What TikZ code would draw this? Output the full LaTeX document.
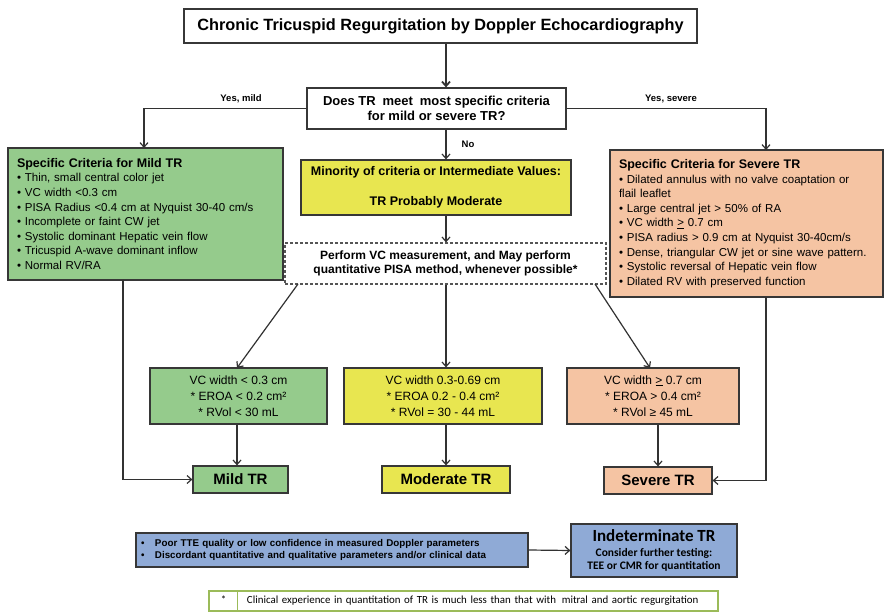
\documentclass[tikz,border=0pt]{standalone}
\usepackage{fontspec}
\setmainfont{Liberation Sans}
\newfontfamily\carlito{Carlito}
\usetikzlibrary{arrows.meta,calc}

\definecolor{boxline}{RGB}{55,55,55}
\definecolor{wire}{RGB}{50,50,50}
\definecolor{mildgreen}{RGB}{149,203,140}
\definecolor{modyellow}{RGB}{232,230,80}
\definecolor{sevpeach}{RGB}{245,196,163}
\definecolor{indblue}{RGB}{143,170,214}
\definecolor{notegreen}{RGB}{155,187,89}

\newcommand\fsz[2]{\fontsize{#1}{#2}\selectfont}

\begin{document}
\begin{tikzpicture}[x=1pt,y=-1pt,
  panel/.style={draw=boxline, line width=1.2pt, inner ysep=0pt},
  sized/.style 2 args={minimum width=#1, minimum height=#2},
  arr/.style={draw=wire, line width=1.2pt, -{Straight Barb[length=4.5pt,width=8pt]}},
  lbl/.style={font=\bfseries\fsz{9.5}{11}, inner sep=1pt}]

\useasboundingbox[fill=white] (0,0) rectangle (886,612);

% column axis shared by the middle arrows
\coordinate (axis) at (446,0);

% heading and first question
\node[panel, sized={513pt}{34pt}, font=\bfseries\fsz{16.3}{18}] (title) at (440.5,26)
  {Chronic Tricuspid Regurgitation by Doppler Echocardiography};
\node[panel, sized={259pt}{41pt}, align=center, font=\bfseries\fsz{13}{15}] (q) at (436.5,108.5)
  {Does TR\hspace{0.25em} meet\hspace{0.25em} most specific criteria\\ for mild or severe TR?};

% specific criteria panels
\node[panel, fill=mildgreen, sized={275pt}{132pt}, inner xsep=9pt, text width=257pt,
      align=left, font=\fsz{11.5}{14.6}] (mild) at (145.5,214)
  {{\bfseries\fsz{12.5}{14.6}Specific Criteria for Mild TR}\\
   • Thin, small central color jet\\
   • VC width <0.3 cm\\
   • PISA Radius <0.4 cm at Nyquist 30-40 cm/s\\
   • Incomplete or faint CW jet\\
   • Systolic dominant Hepatic vein flow\\
   • Tricuspid A-wave dominant inflow\\
   • Normal RV/RA};

\node[panel, fill=sevpeach, sized={273pt}{147pt}, inner xsep=9pt, text width=255pt,
      align=left, font=\fsz{11.5}{14.6}] (sev) at (746.5,223.5)
  {{\bfseries\fsz{12.5}{14.6}Specific Criteria for Severe TR}\\
   • Dilated annulus with no valve coaptation or\\
   flail leaflet\\
   • Large central jet > 50\% of RA\\
   • VC width \underline{>} 0.7 cm\\
   • PISA radius > 0.9 cm at Nyquist 30-40cm/s\\
   • Dense, triangular CW jet or sine wave pattern.\\
   • Systolic reversal of Hepatic vein flow\\
   • Dilated RV with preserved function};

\node[panel, fill=modyellow, sized={270pt}{55pt}, align=center, font=\bfseries\fsz{12.5}{15}] (inter) at (436,187.5)
  {Minority of criteria or Intermediate Values:\\[15pt] TR Probably Moderate};

\node[draw=boxline!85, dash pattern=on 3pt off 2pt, line width=1.2pt, inner ysep=0pt,
      sized={321pt}{41pt}, align=center, font=\bfseries\fsz{12}{14}] (perf) at (445.5,263.5)
  {Perform VC measurement, and May perform\\ quantitative PISA method, whenever possible*};

% quantitative parameter boxes
\node[panel, fill=mildgreen, sized={177pt}{56pt}, align=center, font=\fsz{12}{16}] (qmild) at (238.5,396)
  {VC width < 0.3 cm\\ * EROA < 0.2 cm²\\ * RVol < 30 mL};
\node[panel, fill=modyellow, sized={198pt}{56pt}, align=center, font=\fsz{12}{16}] (qmod) at (443,396)
  {VC width 0.3-0.69 cm\\ * EROA 0.2 - 0.4 cm²\\ * RVol = 30 - 44 mL};
\node[panel, fill=sevpeach, sized={172pt}{56pt}, align=center, font=\fsz{12}{16}] (qsev) at (653,396)
  {VC width \underline{>} 0.7 cm\\ * EROA > 0.4 cm²\\ * RVol ≥ 45 mL};

% grades
\node[panel, fill=mildgreen, sized={95pt}{27pt}, font=\bfseries\fsz{15}{17}] (gmild) at (240.5,479.5) {Mild TR};
\node[panel, fill=modyellow, sized={128pt}{27pt}, font=\bfseries\fsz{15}{17}] (gmod) at (446,479.5) {Moderate TR};
\node[panel, fill=sevpeach, sized={108pt}{27pt}, font=\bfseries\fsz{15}{17}] (gsev) at (658,480.5) {Severe TR};

% indeterminate branch
\node[panel, fill=indblue, sized={392pt}{34pt}, inner xsep=5pt, text width=382pt,
      align=left, font=\bfseries\fsz{9.8}{11.5}] (poor) at (332,550)
  {\makebox[14pt][l]{•}Poor TTE quality or low confidence in measured Doppler parameters\\
   \makebox[14pt][l]{•}Discordant quantitative and qualitative parameters and/or clinical data};
\node[panel, fill=indblue, sized={166pt}{53pt}, align=center, font=\carlito\bfseries\fsz{11.5}{13.5}] (indet) at (654,550.5)
  {{\fsz{17}{17}Indeterminate TR}\\[1pt] Consider further testing:\\ TEE or CMR for quantitation};

% footnote
\node[draw=notegreen, line width=1.5pt, sized={509pt}{20pt}, inner xsep=0pt, inner ysep=0pt,
      text width=509pt, align=left, font=\carlito\fsz{10.9}{12}] (note) at (463.5,601)
  {\makebox[29pt]{*}\hspace{9pt}Clinical experience in quantitation of TR is much less than that with\hspace{0.2em} mitral and aortic regurgitation};
\draw[draw=notegreen, line width=1.2pt] ($(note.north west)+(29,0)$) -- ($(note.south west)+(29,0)$);

% branch labels
\node[lbl] (lmild) at (241,99) {Yes, mild};
\node[lbl] (lsev) at (671,99) {Yes, severe};
\node[lbl] (lno) at (468,144) {No};

% connector end points on panel edges
\coordinate (mildin) at (144,148);
\coordinate (mildout) at (123,280);
\coordinate (sevin) at (766,150);
\coordinate (sevout) at (766,297);
\coordinate (perfl) at (298,284);
\coordinate (perfr) at (595,284);
\coordinate (qmildin) at (237,368);
\coordinate (qsevin) at (650,368);

% connectors
\draw[arr, line width=1.8pt] (title.south -| axis) -- (q.north -| axis);
\draw[arr] (q.west) -| (mildin);
\draw[arr] (q.east) -| (sevin);
\draw[arr] (q.south -| axis) -- (inter.north -| axis);
\draw[arr] (inter.south -| axis) -- (perf.north -| axis);
\draw[arr] (perfl) -- (qmildin);
\draw[arr] (perf.south -| axis) -- (qmod.north -| axis);
\draw[arr] (perfr) -- (qsevin);
\draw[arr] (qmildin |- qmild.south) -- (qmildin |- gmild.north);
\draw[arr] (qmod.south -| axis) -- (gmod.north -| axis);
\draw[arr] (gsev.north |- qsev.south) -- (gsev.north);
\draw[arr] (mildout) |- (gmild.west);
\draw[arr] (sevout) |- (gsev.east);
\draw[arr] (poor.east) -- (indet.west);

\end{tikzpicture}
\end{document}
